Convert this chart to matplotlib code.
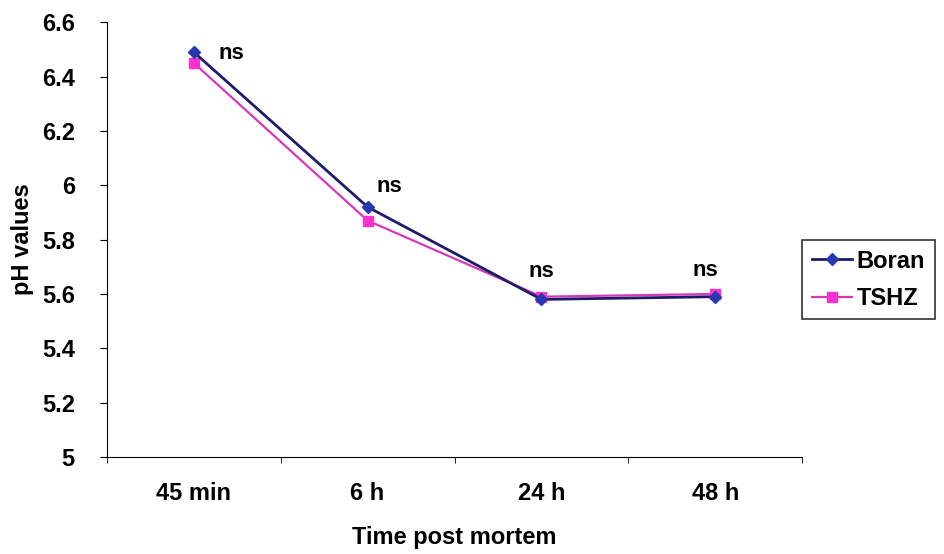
import numpy as np
import matplotlib.pyplot as plt

plt.rcParams['font.family'] = ['Liberation Sans', 'DejaVu Sans']
plt.rcParams['font.weight'] = 'bold'

times = ['45 min', '6 h', '24 h', '48 h']
boran = [6.49, 5.92, 5.58, 5.59]
tshz = [6.45, 5.87, 5.59, 5.60]
sig = ['ns', 'ns', 'ns', 'ns']

fig = plt.figure(figsize=(9.45, 5.54), dpi=100)
ax = fig.add_axes([0.113, 0.175, 0.736, 0.785])

x = np.arange(len(times))
ax.plot(x, boran, color='#1c1c6b', lw=2, marker='D', ms=6,
        mfc='#2838b0', mec='#2838b0', label='Boran', zorder=3)
ax.plot(x, tshz, color='#d838b8', lw=1.6, marker='s', ms=7,
        mfc='#ff30d0', mec='#ff30d0', label='TSHZ', zorder=2)

# ns labels next to each time point
offsets = [(27, -1), (16, 15), (0, 18), (-7, 17)]
for i, s in enumerate(sig):
    top = max(boran[i], tshz[i])
    ax.annotate(s, (x[i], top), xytext=offsets[i], textcoords='offset points',
                ha='center', va='center', fontsize=16, fontweight='bold')

ax.set_xlim(-0.5, 3.5)
ax.set_ylim(5, 6.6)
ax.set_yticks(np.arange(5, 6.61, 0.2))
ax.set_yticklabels(['5', '5.2', '5.4', '5.6', '5.8', '6', '6.2', '6.4', '6.6'])
ax.set_xticks(x)
ax.set_xticklabels(times)
ax.set_xticks(np.arange(-0.5, 3.6, 1), minor=True)
ax.tick_params(axis='x', which='major', length=0, pad=18, labelsize=17)
ax.tick_params(axis='x', which='minor', length=4, direction='out')
ax.tick_params(axis='y', length=5, direction='out', labelsize=17, pad=18)

ax.spines['top'].set_visible(False)
ax.spines['right'].set_visible(False)
ax.set_xlabel('Time post mortem', fontsize=17, fontweight='bold', labelpad=15)
ax.set_ylabel('pH values', fontsize=17, fontweight='bold', labelpad=6)

leg = fig.legend(loc='center left', bbox_to_anchor=(0.849, 0.495), fontsize=17,
                 frameon=True, fancybox=False, edgecolor='black',
                 handlelength=1.7, handletextpad=0.2, borderpad=0.4,
                 labelspacing=0.6, borderaxespad=0)
leg.get_frame().set_linewidth(1.2)

plt.savefig('out.png', dpi=100)
